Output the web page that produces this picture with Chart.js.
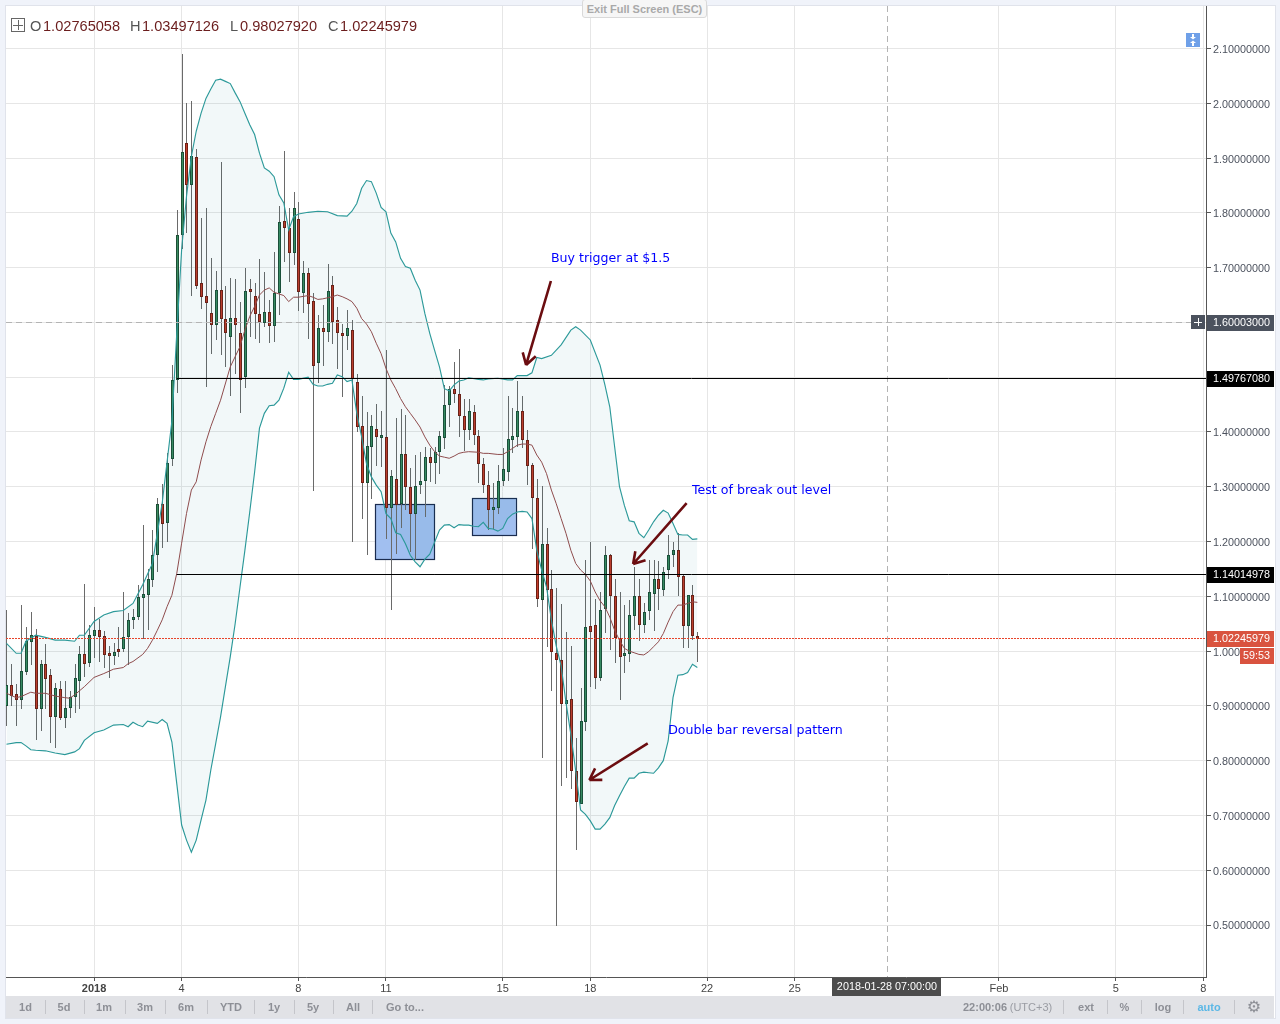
<!DOCTYPE html>
<html><head><meta charset="utf-8">
<script src="https://cdn.jsdelivr.net/npm/chart.js@4/dist/chart.umd.min.js"></script>
<style>
html,body{margin:0;padding:0;width:1280px;height:1024px;overflow:hidden;background:#f0f3fa;font-family:"Liberation Sans",Arial,sans-serif}
#panel{position:absolute;left:5px;top:5px;width:1269px;height:1012px;background:#fff;border:1px solid #e0e3eb;box-sizing:content-box}
#bar{position:absolute;left:6px;top:996px;width:1268px;height:22px;background:#e1e2e6}
canvas{position:absolute;left:0;top:0}
.t{position:absolute;white-space:nowrap}
.b{font-size:11px;font-weight:bold;color:#8d8f96;top:1001px;transform:translateX(-50%)}
.s{position:absolute;top:1000px;width:1px;height:14px;background:#c4c5ca}
.h{top:18px;font-size:14.6px;color:#6b1d1d}
.l{color:#555}
#exit{position:absolute;left:582px;top:-1px;width:123px;height:17px;background:#f6f6f6;border:1px solid #d9d9d9;border-radius:3px;font-size:11px;font-weight:bold;color:#a9a9a9;text-align:center;line-height:18px}
#plus{position:absolute;left:11px;top:18px;width:12px;height:12px;border:1px solid #666}
#plus:before{content:"";position:absolute;left:1px;top:5.5px;width:10px;height:1px;background:#666}
#plus:after{content:"";position:absolute;left:5.5px;top:1px;width:1px;height:10px;background:#666}
</style></head><body>
<div id="panel"></div><div id="bar"></div>
<canvas id="c" width="1280" height="1024"></canvas>
<div id="exit">Exit Full Screen (ESC)</div>
<div id="plus"></div>
<span class="t h" style="left:30px"><span class="l">O</span></span><span class="t h" style="left:43px" id="hO"></span>
<span class="t h" style="left:130px"><span class="l">H</span></span><span class="t h" style="left:142px" id="hH"></span>
<span class="t h" style="left:230px"><span class="l">L</span></span><span class="t h" style="left:240px" id="hL"></span>
<span class="t h" style="left:328px"><span class="l">C</span></span><span class="t h" style="left:340px" id="hC"></span>
<script>
const headerOHLC = ["1.02765058","1.03497126","0.98027920","1.02245979"];
const rangeButtons = ["1d","5d","1m","3m","6m","YTD","1y","5y","All","Go to..."];

const opens = [.900,.939,.921,.911,.962,1.017,1.028,.895,.976,.956,.879,.930,.878,.897,.917,.946,.994,.979,1.027,1.038,1.027,.996,.991,1.000,1.004,1.025,1.056,1.063,1.097,1.103,1.130,1.176,1.268,1.234,1.350,1.495,1.759,1.927,1.850,1.902,1.672,1.648,1.617,1.596,1.659,1.606,1.574,1.608,1.580,1.501,1.657,1.648,1.615,1.599,1.619,1.593,1.653,1.785,1.772,1.726,1.789,1.654,1.691,1.640,1.526,1.589,1.583,1.668,1.605,1.580,1.576,1.587,1.491,1.411,1.307,1.373,1.405,1.389,1.390,1.261,1.315,1.268,1.359,1.299,1.251,1.303,1.311,1.355,1.344,1.364,1.389,1.450,1.478,1.470,1.430,1.403,1.437,1.392,1.342,1.304,1.258,1.261,1.311,1.327,1.386,1.391,1.439,1.386,1.339,1.280,1.094,1.196,1.114,.997,.983,.904,.912,.782,.720,.871,1.045,1.047,.950,1.076,1.175,1.100,1.024,.991,.995,1.064,1.100,1.048,1.073,1.104,1.132,1.111,1.148,1.176,1.185,1.137,1.046,1.102,1.02765058];
const highs = [1.075,.976,.940,1.084,1.044,1.071,1.041,.983,1.013,.967,.941,.945,.945,.927,.976,1.009,1.122,1.047,1.080,1.058,1.037,1.009,1.015,1.044,1.107,1.069,1.076,1.121,1.230,1.149,1.221,1.279,1.305,1.362,1.5225,1.8055,2.090,2.001,2.005,1.916,1.790,1.809,1.718,1.694,1.893,1.667,1.681,1.680,1.637,1.699,1.679,1.672,1.716,1.692,1.641,1.728,1.813,1.913,1.809,1.838,1.819,1.712,1.700,1.653,1.613,1.632,1.707,1.685,1.628,1.598,1.623,1.604,1.506,1.465,1.437,1.431,1.451,1.438,1.549,1.330,1.425,1.442,1.431,1.334,1.358,1.363,1.372,1.370,1.373,1.401,1.485,1.484,1.528,1.551,1.461,1.461,1.450,1.403,1.353,1.328,1.306,1.339,1.370,1.465,1.443,1.493,1.465,1.403,1.344,1.315,1.302,1.224,1.148,1.116,1.086,1.035,1.010,.842,.933,1.166,1.200,1.096,1.108,1.191,1.178,1.131,1.108,1.084,1.093,1.154,1.132,1.087,1.166,1.166,1.165,1.154,1.212,1.199,1.215,1.140,1.103,1.120,1.03497126];
const lows = [.863,.900,.863,.894,.956,.974,.837,.854,.895,.833,.823,.874,.859,.878,.887,.894,.953,.971,.988,.981,.970,.951,.974,.989,.999,.974,1.040,1.057,1.023,1.038,1.117,1.145,1.189,1.200,1.338,1.471,1.734,1.763,1.649,1.661,1.625,1.483,1.543,1.567,1.541,1.519,1.465,1.506,1.435,1.481,1.574,1.570,1.562,1.591,1.563,1.565,1.613,1.711,1.673,1.705,1.620,1.618,1.570,1.293,1.490,1.521,1.565,1.560,1.515,1.464,1.549,1.199,1.400,1.241,1.175,1.277,1.338,1.336,1.204,1.075,1.177,1.225,1.257,1.181,1.166,1.286,1.245,1.309,1.305,1.324,1.369,1.409,1.452,1.391,1.366,1.385,1.376,1.306,1.289,1.221,1.222,1.250,1.302,1.311,1.361,1.373,1.371,1.303,1.186,1.081,.804,1.007,.927,.499,.754,.769,.748,.637,.720,.854,.934,.931,.945,1.033,1.002,.979,.911,.960,.981,1.038,1.019,1.033,1.056,1.037,1.075,1.100,1.131,1.154,1.100,1.006,1.006,1.020,.98027920];
const closes = [.939,.918,.911,.963,1.018,1.029,.895,.976,.949,.880,.932,.878,.897,.917,.950,.994,.977,1.030,1.038,1.026,.993,.991,.998,.998,1.025,1.056,1.063,1.098,1.105,1.131,1.176,1.268,1.232,1.344,1.495,1.759,1.911,1.850,1.904,1.666,1.647,1.635,1.596,1.659,1.606,1.580,1.608,1.596,1.495,1.657,1.655,1.615,1.600,1.619,1.593,1.653,1.783,1.773,1.726,1.809,1.656,1.691,1.634,1.521,1.589,1.583,1.658,1.601,1.581,1.576,1.589,1.496,1.409,1.307,1.374,1.411,1.390,1.391,1.262,1.319,1.266,1.359,1.299,1.251,1.302,1.311,1.355,1.344,1.364,1.392,1.450,1.478,1.470,1.430,1.403,1.439,1.394,1.342,1.303,1.258,1.262,1.311,1.332,1.388,1.392,1.439,1.386,1.338,1.279,1.095,1.196,1.112,.999,.983,.904,.910,.782,.724,.872,1.044,1.035,.950,1.075,1.175,1.101,1.024,.990,.991,1.065,1.100,1.048,1.072,1.107,1.132,1.114,1.145,1.176,1.185,1.135,1.046,1.102,1.027,1.02245979];

const upperBars = [0,2,3,4,6,8,10,12,14,15,16,18,20,22,24,26,28,30,32,34,35,36,37,38,39,40,41,42,43,44,45,46,47,48,49,50,51,52,53,54,55,56,57,58,59,60,62,64,66,68,70,71,72,73,74,75,76,77,78,79,80,81,82,83,84,85,86,87,88,89,90,91,92,93,94,95,97,98,99,101,103,104,105,106,107,108,109,110,112,114,116,117,118,120,122,123,124,125,126,127,128,129,130,131,132,133,134,135,136,137,138,139,140,141,142];
const upperValues = [1.014,.996,.996,1.018,1.029,1.025,1.020,1.020,1.018,1.029,1.029,1.054,1.066,1.072,1.074,1.087,1.121,1.160,1.27,1.42,1.58,1.733,1.83,1.903,1.949,1.982,2.009,2.026,2.042,2.044,2.04,2.036,2.019,2.003,1.982,1.961,1.943,1.909,1.882,1.876,1.866,1.833,1.818,1.769,1.793,1.798,1.801,1.803,1.802,1.795,1.794,1.803,1.817,1.845,1.859,1.857,1.836,1.81,1.802,1.763,1.747,1.717,1.702,1.699,1.677,1.659,1.616,1.58,1.549,1.519,1.479,1.475,1.486,1.493,1.495,1.499,1.496,1.495,1.497,1.498,1.495,1.495,1.503,1.503,1.503,1.508,1.536,1.534,1.54,1.559,1.586,1.592,1.586,1.568,1.522,1.486,1.446,1.373,1.30,1.266,1.238,1.236,1.215,1.207,1.221,1.236,1.248,1.257,1.252,1.233,1.213,1.212,1.212,1.204,1.205];

const lowerBars = [0,2,3,4,5,6,8,10,12,14,15,16,18,20,22,24,25,26,27,28,29,31,32,33,34,35,36,37,38,39,40,41,42,43,44,45,46,47,48,49,50,51,52,53,54,55,56,57,58,59,60,62,63,64,65,66,67,68,69,70,71,72,73,74,75,76,77,78,79,80,81,82,83,84,85,86,87,88,89,90,91,92,93,94,95,96,97,98,99,100,101,102,103,104,105,106,107,108,109,110,111,112,113,114,115,116,117,118,119,120,121,122,123,124,125,126,127,128,129,130,131,132,133,134,135,136,137,138,139,140,141,142];
const lowerValues = [.830,.833,.833,.827,.820,.819,.818,.814,.811,.816,.822,.837,.851,.856,.865,.866,.862,.870,.865,.862,.872,.868,.875,.868,.834,.758,.6825,.655,.633,.655,.692,.728,.783,.831,.880,.935,.99,1.05,1.117,1.184,1.254,1.327,1.407,1.434,1.448,1.449,1.458,1.48,1.509,1.496,1.496,1.5,1.487,1.484,1.484,1.487,1.489,1.504,1.501,1.492,1.495,1.434,1.391,1.342,1.318,1.303,1.291,1.251,1.242,1.216,1.213,1.196,1.175,1.163,1.154,1.168,1.177,1.199,1.221,1.230,1.231,1.225,1.231,1.230,1.230,1.228,1.227,1.235,1.224,1.223,1.219,1.224,1.242,1.250,1.254,1.255,1.254,1.242,1.184,1.148,1.117,1.057,1.009,.973,.906,.848,.781,.710,.702,.690,.675,.675,.684,.696,.718,.736,.753,.768,.768,.777,.779,.778,.777,.787,.800,.836,.915,.956,.957,.961,.976,.970];

const basisBars = [0,2,3,5,6,8,10,12,13,14,16,18,20,22,24,25,26,28,29,30,31,32,33,34,35,36,37,38,39,40,41,42,43,44,46,48,49,50,51,52,53,54,55,57,58,59,60,62,63,64,65,66,67,68,69,70,71,72,73,74,75,76,77,78,79,80,81,82,83,84,85,86,87,88,89,90,91,92,93,94,95,97,98,99,101,102,103,104,105,106,107,108,109,110,111,112,113,114,115,116,117,118,119,120,121,122,123,124,125,126,127,128,129,130,131,132,133,134,135,136,137,138,139,140,141,142];
const basisValues = [.923,.915,.917,.925,.923,.923,.918,.915,.914,.920,.935,.952,.959,.967,.970,.977,.981,.994,1.005,1.02,1.038,1.057,1.081,1.102,1.142,1.197,1.251,1.294,1.309,1.349,1.382,1.41,1.434,1.458,1.519,1.556,1.586,1.611,1.629,1.65,1.659,1.663,1.655,1.649,1.638,1.646,1.646,1.649,1.646,1.642,1.643,1.645,1.647,1.65,1.647,1.643,1.638,1.626,1.607,1.597,1.583,1.562,1.543,1.516,1.495,1.479,1.461,1.446,1.434,1.422,1.409,1.391,1.376,1.364,1.356,1.354,1.352,1.356,1.361,1.363,1.364,1.363,1.361,1.361,1.359,1.359,1.364,1.37,1.376,1.378,1.378,1.376,1.358,1.345,1.324,1.294,1.269,1.242,1.215,1.184,1.16,1.148,1.140,1.128,1.108,1.092,1.081,1.062,1.038,1.02,1.005,1.0,.997,.994,.993,.999,1.008,1.017,1.032,1.053,1.072,1.084,1.084,1.087,1.09,1.089];

const yTicks = [2.1,2.0,1.9,1.8,1.7,1.6,1.5,1.4,1.3,1.2,1.1,1.0,0.9,0.8,0.7,0.6,0.5];
const xTickBars = [18,36,60,78,102,120,144,162,204,228,246];
const xTickLabels = ["2018","4","8","11","15","18","22","25","Feb","5","8"];

const levels = [1.4976708,1.14014978];
const levelStartBar = 35;
const lastPrice = 1.02245979;
const crosshairPrice = 1.60003;
const crosshairBar = 181;
const crosshairDate = "2018-01-28 07:00:00";
const timer = "59:53";

const boxBars = [[75.8,87.9],[95.7,104.7]];
const boxValues = [[1.2685,1.1681],[1.2795,1.2119]];
const arrowBars = [[111.9,106.8],[139.8,128.8],[131.8,119.8]];
const arrowValues = [[1.6756,1.5223],[1.2703,1.159],[.8317,.7647]];
const noteTexts = ["Buy trigger at $1.5","Test of break out level","Double bar reversal pattern"];
const noteBars = [111.9,140.9,136];
const noteValues = [1.7164,1.2929,.8548];

["hO","hH","hL","hC"].forEach((id,i)=>document.getElementById(id).textContent=headerOHLC[i]);
const btnX=[25.5,64,104,145,186,231,274,313,353,405];
rangeButtons.forEach((t,i)=>{const s=document.createElement('span');s.className='t b';s.style.left=btnX[i]+'px';s.textContent=t;document.body.appendChild(s);});
[44.5,83.7,124.5,165,206.5,254,293.5,332.7,372,1063,1107,1141,1183,1233.5].forEach(x=>{const d=document.createElement('div');d.className='s';d.style.left=x+'px';document.body.appendChild(d);});
[["22:00:06",985,"#8d8f96",true],["(UTC+3)",1031,"#9a9ca3",false],["ext",1086,"#8d8f96",true],["%",1124.5,"#8d8f96",true],["log",1163,"#8d8f96",true],["auto",1209,"#5cb8e6",true],["⚙",1254,"#8d8f96",false]].forEach(a=>{const s=document.createElement('span');s.className='t b';s.style.left=a[1]+'px';s.style.color=a[2];s.style.fontWeight=a[3]?'bold':'normal';s.textContent=a[0];if(a[0]==="⚙"){s.style.fontSize='16px';s.style.top='997px';s.style.fontFamily='DejaVu Sans';}document.body.appendChild(s);});

const GREEN='#3a8c60',GREEN_B='#1c4f36',RED='#c43c2a',RED_B='#6f1e12';
const isUp=i=>closes[i]>=opens[i];
const pairs=(xs,ys)=>xs.map((x,i)=>({x,y:ys[i]}));
const lineDs=(xs,ys,color,extra)=>Object.assign({type:'line',data:pairs(xs,ys),borderColor:color,borderWidth:1.15,pointRadius:0,tension:0,fill:false,order:1},extra||{});

const drawings={id:'drawings',
 beforeDatasetsDraw(ch){
  const ctx=ch.ctx,X=ch.scales.x,Y=ch.scales.y;
  [0,1].forEach(d=>ch.getDatasetMeta(d).data.forEach(el=>{el.x=Math.round(el.x)+.5;el.y=Math.round(el.y);el.base=Math.round(el.base);}));
  ctx.save();
  boxBars.forEach((b,i)=>{
   const x0=X.getPixelForValue(b[0]),x1=X.getPixelForValue(b[1]),y0=Y.getPixelForValue(boxValues[i][0]),y1=Y.getPixelForValue(boxValues[i][1]);
   ctx.fillStyle='#a1bff0';ctx.fillRect(x0,y0,x1-x0,y1-y0);
   ctx.strokeStyle='#1b2c4f';ctx.lineWidth=1.2;ctx.strokeRect(Math.round(x0)+.5,Math.round(y0)+.5,Math.round(x1-x0),Math.round(y1-y0));
  });
  ctx.restore();
 },
 afterDatasetsDraw(ch){
  const ctx=ch.ctx,X=ch.scales.x,Y=ch.scales.y,a=ch.chartArea;
  ctx.save();
  const snap=v=>Math.floor(v)+.5;
  ctx.strokeStyle='#b4b4b4';ctx.lineWidth=1;ctx.setLineDash([6,4]);
  ctx.beginPath();ctx.moveTo(a.left,snap(Y.getPixelForValue(crosshairPrice)));ctx.lineTo(a.right,snap(Y.getPixelForValue(crosshairPrice)));
  ctx.moveTo(snap(X.getPixelForValue(crosshairBar)),a.top);ctx.lineTo(snap(X.getPixelForValue(crosshairBar)),a.bottom);ctx.stroke();
  ctx.strokeStyle='#e8432a';ctx.setLineDash([2,1]);
  ctx.beginPath();ctx.moveTo(a.left,snap(Y.getPixelForValue(lastPrice)));ctx.lineTo(a.right,snap(Y.getPixelForValue(lastPrice)));ctx.stroke();
  ctx.setLineDash([]);
  ctx.strokeStyle='#000';
  levels.forEach(v=>{ctx.beginPath();ctx.moveTo(X.getPixelForValue(levelStartBar),snap(Y.getPixelForValue(v)));ctx.lineTo(a.right,snap(Y.getPixelForValue(v)));ctx.stroke();});
  ctx.strokeStyle='#6b0d10';ctx.lineWidth=2.6;ctx.lineCap='butt';
  arrowBars.forEach((b,i)=>{
   const x0=X.getPixelForValue(b[0]),x1=X.getPixelForValue(b[1]),y0=Y.getPixelForValue(arrowValues[i][0]),y1=Y.getPixelForValue(arrowValues[i][1]);
   const ang=Math.atan2(y0-y1,x0-x1);
   ctx.beginPath();ctx.moveTo(x0,y0);ctx.lineTo(x1,y1);
   [-.55,.55].forEach(d=>{ctx.moveTo(x1,y1);ctx.lineTo(x1+13*Math.cos(ang+d),y1+13*Math.sin(ang+d));});
   ctx.stroke();
  });
  ctx.fillStyle='#0000ff';ctx.font='12.6px "DejaVu Sans"';ctx.textAlign='left';ctx.textBaseline='middle';
  noteTexts.forEach((t,i)=>ctx.fillText(t,X.getPixelForValue(noteBars[i]),Y.getPixelForValue(noteValues[i])));
  ctx.restore();
 },
 afterDraw(ch){
  const ctx=ch.ctx,X=ch.scales.x,Y=ch.scales.y,a=ch.chartArea;
  ctx.save();
  ctx.font='10.8px "Liberation Sans"';ctx.textBaseline='middle';ctx.textAlign='left';
  const tag=(v,bg,txt)=>{const y=Math.floor(Y.getPixelForValue(v));ctx.fillStyle=bg;ctx.fillRect(a.right+1,y-7,67,16);ctx.fillStyle='#fff';ctx.fillText(txt,a.right+7,y+1.5);};
  tag(crosshairPrice,'#4c525e','1.60003000');
  tag(levels[0],'#000','1.49767080');
  tag(levels[1],'#000','1.14014978');
  tag(lastPrice,'#d9533f','1.02245979');
  const cy=Math.floor(Y.getPixelForValue(crosshairPrice));
  ctx.fillStyle='#4c525e';ctx.fillRect(a.right-15,cy-7,14,14);
  ctx.fillStyle='#fff';ctx.fillRect(a.right-12,cy,8,1);ctx.fillRect(a.right-8,cy-4,1,8);
  const ly=Math.floor(Y.getPixelForValue(lastPrice));
  ctx.fillStyle='#d9533f';ctx.fillRect(1240,ly+10,34,16);
  ctx.fillStyle='#fff';ctx.fillText(timer,1243,ly+18.5);
  const cx=Math.round(X.getPixelForValue(crosshairBar));
  ctx.fillStyle='#4c4c4c';ctx.fillRect(cx-55,a.bottom+1,109,18);
  ctx.fillStyle='#fff';ctx.textAlign='center';ctx.fillText(crosshairDate,cx,a.bottom+10.5);
  ctx.fillStyle='#6fa0e8';ctx.fillRect(1186,33,14,14);
  ctx.fillStyle='#fff';
  ctx.fillRect(1192,34,2,3);ctx.beginPath();ctx.moveTo(1190,37);ctx.lineTo(1196,37);ctx.lineTo(1193,39.5);ctx.fill();
  ctx.fillRect(1192,43,2,3);ctx.beginPath();ctx.moveTo(1190,43);ctx.lineTo(1196,43);ctx.lineTo(1193,40.5);ctx.fill();
  ctx.restore();
 }};

new Chart(document.getElementById('c'),{
 type:'bar',
 data:{datasets:[
  {label:'wicks',data:opens.map((_,i)=>({x:i,y:[lows[i],highs[i]]})),backgroundColor:'#6a6a6a',barThickness:1,inflateAmount:0,grouped:false,order:3},
  {label:'bodies',data:opens.map((_,i)=>({x:i,y:[opens[i],closes[i]]})),backgroundColor:opens.map((_,i)=>isUp(i)?GREEN:RED),borderColor:opens.map((_,i)=>isUp(i)?GREEN_B:RED_B),borderWidth:1,borderSkipped:false,barThickness:3,inflateAmount:0,minBarLength:3,grouped:false,order:2},
  lineDs(upperBars,upperValues,'#2d9a9a',{fill:{target:3},backgroundColor:'rgba(0,120,130,0.05)'}),
  lineDs(lowerBars,lowerValues,'#2d9a9a'),
  lineDs(basisBars,basisValues,'#964a4a',{borderWidth:1})
 ]},
 options:{
  responsive:false,animation:false,devicePixelRatio:1,
  layout:{padding:{left:6,top:6,right:6,bottom:28}},
  plugins:{legend:{display:false},tooltip:{enabled:false}},
  scales:{
   x:{type:'linear',min:-0.1,max:246.55,offset:false,
    grid:{offset:false,color:'#e6e6e6',tickColor:'#555',tickLength:4,lineWidth:1},
    border:{color:'#555'},
    afterBuildTicks:s=>{s.ticks=xTickBars.map(v=>({value:v}));},
    afterFit:s=>{s.height=19;s.paddingLeft=0;s.paddingRight=0;},
    ticks:{autoSkip:false,maxRotation:0,padding:1,color:'#444',
     font:c=>({family:'"Liberation Sans"',size:11,weight:c.index===0?'bold':'normal'}),
     callback:v=>xTickLabels[xTickBars.indexOf(v)]}},
   y:{position:'right',min:.4051,max:2.1776,
    grid:{color:'#e6e6e6',tickColor:'#555',tickLength:5,lineWidth:1},
    border:{color:'#555'},
    afterBuildTicks:s=>{s.ticks=yTicks.map(v=>({value:v}));},
    afterFit:s=>{s.width=68;s.paddingTop=0;s.paddingBottom=0;},
    ticks:{autoSkip:false,padding:2,labelOffset:1.5,color:'#4c525e',font:{family:'"Liberation Sans"',size:10.8},callback:v=>v.toFixed(8)}}
  }
 },
 plugins:[drawings]
});
</script>
</body></html>
